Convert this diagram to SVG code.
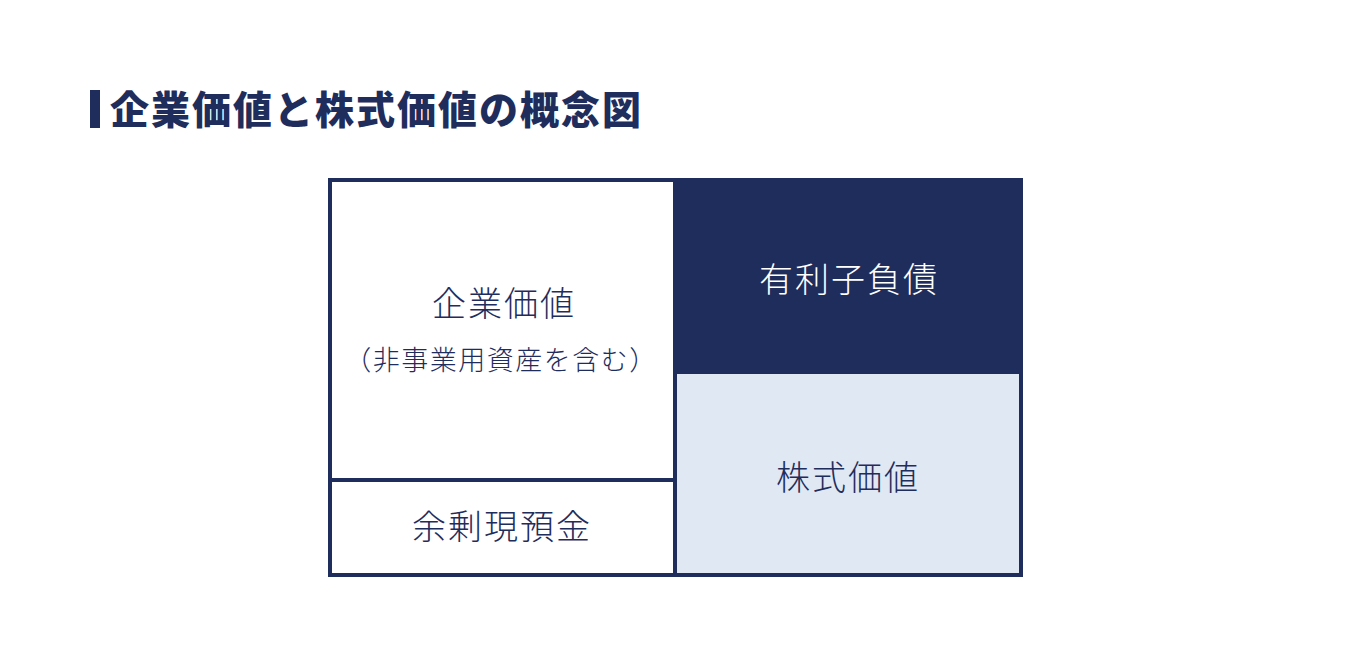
<svg xmlns="http://www.w3.org/2000/svg" width="1350" height="670" viewBox="0 0 1350 670">
<style>
.t{font-family:"Noto Sans CJK JP","Noto Sans",sans-serif;text-anchor:middle;font-weight:300;}
.lbl{font-size:34px;letter-spacing:2px;fill:#1f2d5c;}
.navy{fill:#1f2d5c;}
</style>
<rect width="1350" height="670" fill="#ffffff"/>
<g id="title">
<rect x="90" y="90" width="10" height="38" class="navy"/>
<text x="110" y="124" font-family="Noto Sans CJK JP, sans-serif" font-weight="900" font-size="39" letter-spacing="2" fill="#1f2d5c">企業価値と株式価値の概念図</text>
</g>
<g id="enterprise-value">
<rect x="330" y="180" width="345" height="300" fill="#ffffff"/>
<text class="t lbl" x="504" y="316">企業価値</text>
<text class="t" x="501" y="370" font-size="27" letter-spacing="1.5" fill="#1f2d5c">（非事業用資産を含む）</text>
</g>
<g id="surplus-cash">
<rect x="330" y="480" width="345" height="95" fill="#ffffff"/>
<text class="t lbl" x="502" y="539">余剰現預金</text>
</g>
<g id="debt">
<rect x="673" y="178" width="350" height="194" class="navy"/>
<text class="t lbl" x="849" y="292" style="fill:#ffffff">有利子負債</text>
</g>
<g id="equity-value">
<rect x="675" y="372" width="346" height="203" fill="#dfe8f3" stroke="#1f2d5c" stroke-width="4"/>
<text class="t lbl" x="848" y="490">株式価値</text>
</g>
<g id="frame" fill="none" stroke="#1f2d5c" stroke-width="4">
<rect x="330" y="180" width="691" height="395"/>
<line x1="675" y1="180" x2="675" y2="575"/>
<line x1="330" y1="480" x2="675" y2="480"/>
</g>
</svg>
